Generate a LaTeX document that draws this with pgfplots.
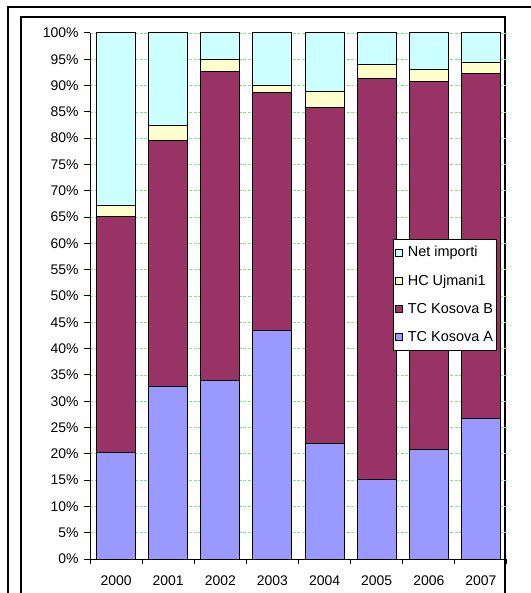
\documentclass[border=0pt]{standalone}
\usepackage{pgfplots}
\pgfplotsset{compat=1.18}
\usepackage{fontspec}
\setmainfont{Liberation Sans}
\definecolor{netc}{HTML}{CCFFFF}
\definecolor{hcc}{HTML}{FFFFCC}
\definecolor{tcb}{HTML}{993366}
\definecolor{tca}{HTML}{9999FF}
\definecolor{gridg}{HTML}{7FE87F}
\begin{document}
\begin{tikzpicture}
\useasboundingbox (-90bp,-34bp) rectangle (441bp,559bp);
\clip (-90bp,-34bp) rectangle (441bp,559bp);
\draw[line width=2.2bp] (-82bp,552bp) rectangle (600bp,-100bp);
\draw[line width=1.4bp] (-69bp,542bp) rectangle (415bp,-100bp);
\begin{axis}[
  scale only axis,
  width=417bp, height=526bp,
  ybar stacked,
  bar width=39bp,
  xmin=-0.5, xmax=7.5,
  ymin=0, ymax=100,
  axis x line*=bottom,
  axis y line*=left,
  axis line style={line width=1bp,-},
  xtick={0,...,7},
  xticklabels={2000,2001,2002,2003,2004,2005,2006,2007},
  major x tick style={draw=none},
  minor xtick={-0.5,0.5,...,7.5},
  minor x tick style={black,line width=1bp},
  minor tick length=5bp,
  ytick={0,5,...,100},
  yticklabel={\pgfmathprintnumber{\tick}\%},
  y tick style={black,line width=1bp},
  major tick length=6bp,
  tick align=outside,
  ymajorgrids,
  grid style={gridg,dash pattern=on 3bp off 1.5bp,line width=0.7bp},
  /pgf/number format/assume math mode=true,
  ticklabel style={font=\fontsize{14}{16}\selectfont},
  xticklabel style={yshift=-7bp},
  yticklabel style={xshift=-2bp},
  every axis plot/.append style={draw=black,line width=1bp},
  legend cell align=left,
  reverse legend,
  legend style={at={(0.7266,0.6084)},anchor=north west,draw=black,line width=1bp,
    font=\fontsize{14.5}{16}\selectfont, inner xsep=2bp, inner ysep=5bp,
    row sep=12.5bp},
  legend image code/.code={\draw[#1,line width=0.8bp] (0bp,-3.5bp) rectangle (7bp,3.5bp);\path[draw=none,fill=none] (0bp,0bp) -- (10bp,0bp);},
]
\addplot[fill=tca] coordinates {(0,20.3) (1,32.7) (2,34.0) (3,43.5) (4,21.9) (5,15.2) (6,20.9) (7,26.7)};
\addplot[fill=tcb] coordinates {(0,44.9) (1,46.9) (2,58.6) (3,45.2) (4,64.0) (5,76.2) (6,69.8) (7,65.6)};
\addplot[fill=hcc] coordinates {(0,2.0) (1,2.8) (2,2.3) (3,1.4) (4,3.0) (5,2.6) (6,2.3) (7,2.1)};
\addplot[fill=netc] coordinates {(0,32.8) (1,17.6) (2,5.1) (3,9.9) (4,11.1) (5,6.0) (6,7.0) (7,5.6)};
\legend{TC Kosova A,TC Kosova B,HC Ujmani1,Net importi}
\end{axis}
\end{tikzpicture}
\end{document}
